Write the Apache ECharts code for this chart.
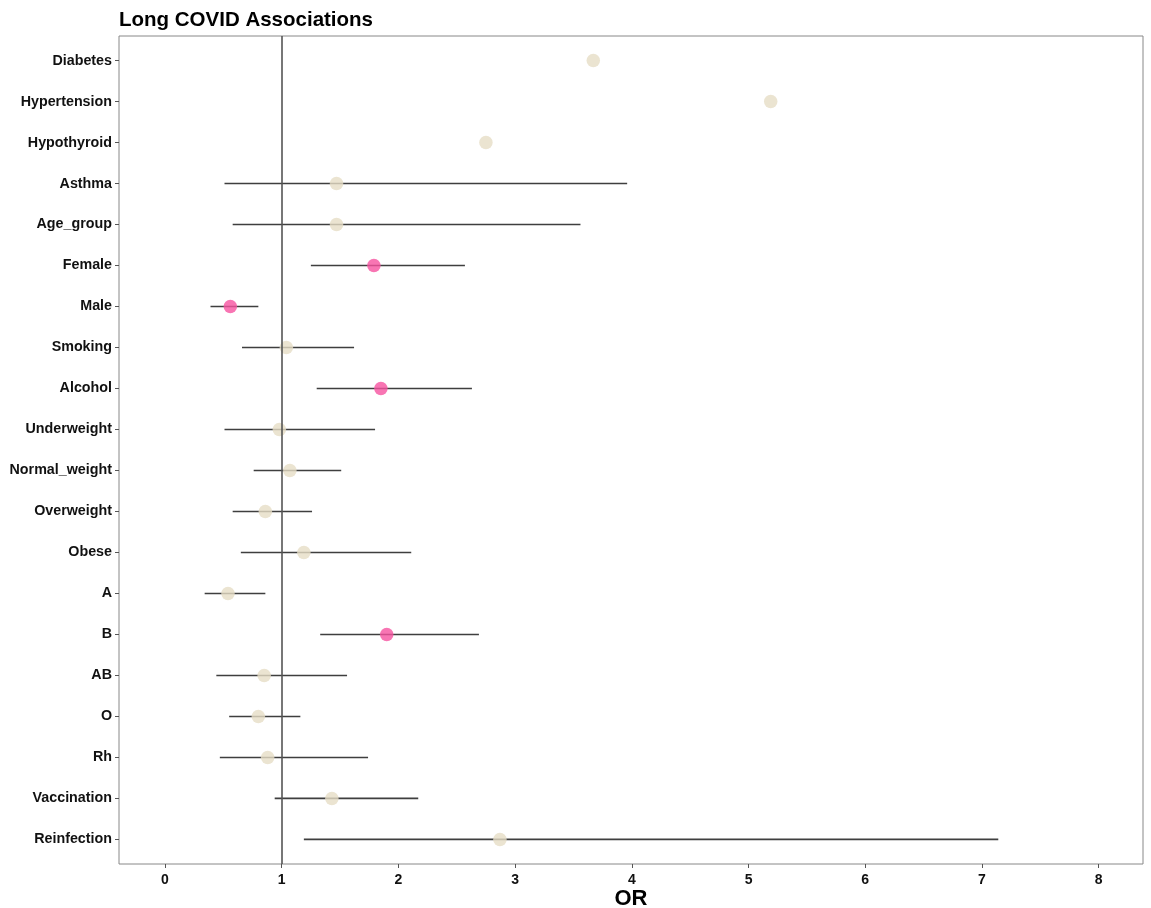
<!DOCTYPE html>
<html>
<head>
<meta charset="utf-8">
<title>Long COVID Associations</title>
<script src="https://cdn.jsdelivr.net/npm/echarts@6/dist/echarts.min.js"></script>
<style>
  html, body { margin: 0; padding: 0; background: #ffffff; }
  #chart { width: 1151px; height: 908px; }
</style>
</head>
<body>
<div id="chart"></div>
<script>
// Factors, listed top to bottom
const factors = ['Diabetes', 'Hypertension', 'Hypothyroid', 'Asthma', 'Age_group', 'Female', 'Male',
  'Smoking', 'Alcohol', 'Underweight', 'Normal_weight', 'Overweight', 'Obese', 'A', 'B', 'AB', 'O',
  'Rh', 'Vaccination', 'Reinfection'];
// Odds ratios and 95% confidence limits (null = no interval reported)
const oddsRatio = [3.67, 5.19, 2.75, 1.47, 1.47, 1.79, 0.56, 1.04, 1.85, 0.98, 1.07, 0.86, 1.19, 0.54,
  1.90, 0.85, 0.80, 0.88, 1.43, 2.87];
const lowerCI = [null, null, null, 0.51, 0.58, 1.25, 0.39, 0.66, 1.30, 0.51, 0.76, 0.58, 0.65, 0.34,
  1.33, 0.44, 0.55, 0.47, 0.94, 1.19];
const upperCI = [null, null, null, 3.96, 3.56, 2.57, 0.80, 1.62, 2.63, 1.80, 1.51, 1.26, 2.11, 0.86,
  2.69, 1.56, 1.16, 1.74, 2.17, 7.14];
// Significant associations are highlighted
const significant = [false, false, false, false, false, true, true, false, true, false, false, false,
  false, false, true, false, false, false, false, false];
const xTicks = [0, 1, 2, 3, 4, 5, 6, 7, 8];

const n = factors.length;
// Row position on the value axis: first factor at the top
const rowOf = i => n - i;
const rowTicks = factors.map((_, i) => rowOf(i));

const pointData = oddsRatio.map((v, i) => ({
  value: [v, rowOf(i)],
  itemStyle: { color: significant[i] ? '#F652A0' : '#E6DDC6' }
}));
const ciData = [];
factors.forEach((_, i) => {
  if (lowerCI[i] != null && upperCI[i] != null) ciData.push([lowerCI[i], upperCI[i], rowOf(i)]);
});

const labelFont = { fontFamily: 'Liberation Sans, Arial, sans-serif', fontWeight: 'bold', color: '#111' };

const chart = echarts.init(document.getElementById('chart'), null, { renderer: 'canvas' });
chart.setOption({
  animation: false,
  backgroundColor: '#ffffff',
  title: {
    text: 'Long COVID Associations',
    left: 114, top: 5,
    textStyle: Object.assign({}, labelFont, { fontSize: 20.5, color: '#000' })
  },
  grid: {
    left: 119, right: 8, top: 36, bottom: 44,
    outerBoundsMode: 'none', containLabel: false,
    show: true, borderColor: '#888', borderWidth: 1
  },
  xAxis: {
    type: 'value', min: -0.394, max: 8.38,
    name: 'OR', nameLocation: 'middle', nameGap: 23.5, nameMoveOverlap: false,
    nameTextStyle: Object.assign({}, labelFont, { fontSize: 22, color: '#000' }),
    axisLine: { show: false, onZero: false },
    splitLine: { show: false },
    axisTick: { show: true, customValues: xTicks, length: 4, lineStyle: { color: '#555' } },
    axisLabel: Object.assign({ customValues: xTicks, fontSize: 14, margin: 9 }, labelFont)
  },
  yAxis: {
    type: 'value', min: 0.4, max: n + 0.6,
    axisLine: { show: false, onZero: false },
    splitLine: { show: false },
    axisTick: { show: true, customValues: rowTicks, length: 4, lineStyle: { color: '#555' } },
    axisLabel: Object.assign({
      customValues: rowTicks, fontSize: 14.3, margin: 7,
      formatter: v => factors[n - Math.round(v)]
    }, labelFont)
  },
  series: [
    {
      type: 'custom',
      name: 'CI',
      data: ciData,
      encode: { x: [0, 1], y: 2 },
      z: 2,
      renderItem: function (params, api) {
        const a = api.coord([api.value(0), api.value(2)]);
        const b = api.coord([api.value(1), api.value(2)]);
        return {
          type: 'line',
          shape: { x1: a[0], y1: a[1], x2: b[0], y2: b[1] },
          style: { stroke: '#3f3f3f', lineWidth: 1.6 }
        };
      }
    },
    {
      type: 'scatter',
      name: 'OR',
      data: pointData,
      symbolSize: 13.5,
      z: 3,
      markLine: {
        silent: true,
        symbol: ['none', 'none'],
        label: { show: false },
        lineStyle: { color: '#555', width: 1.6, type: 'solid' },
        data: [{ xAxis: 1 }]
      }
    }
  ]
});
</script>
</body>
</html>
